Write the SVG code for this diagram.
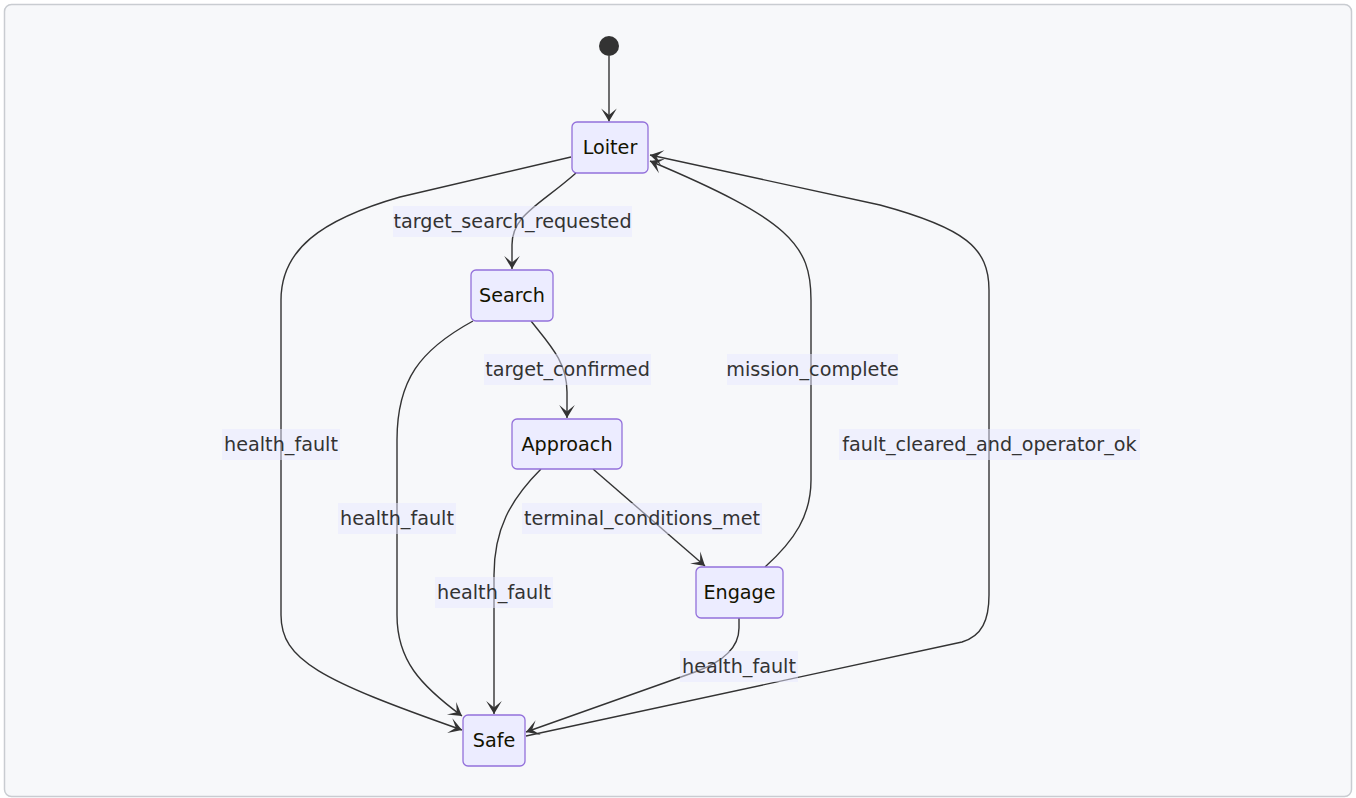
<svg xmlns="http://www.w3.org/2000/svg" width="1356" height="798" viewBox="0 0 1356 798">
  <style>
    .frame { fill: #f7f8fa; stroke: #c9ccd1; stroke-width: 1.5; }
    .node rect { fill: #ececff; stroke: #9370db; stroke-width: 1.3; }
    .node text { font-family: "DejaVu Sans", Verdana, sans-serif; font-size: 19.2px; fill: #131300; text-anchor: middle; dominant-baseline: central; }
    .edge { fill: none; stroke: #333333; stroke-width: 1.4; marker-end: url(#barb); }
    .label rect { fill: #e8e8ff; fill-opacity: 0.5; }
    .label text { font-family: "DejaVu Sans", Verdana, sans-serif; font-size: 19.2px; fill: #333333; text-anchor: middle; dominant-baseline: central; }
  </style>
  <defs>
    <marker id="barb" viewBox="0 0 20 14" refX="19" refY="7" markerWidth="26" markerHeight="18.2" markerUnits="userSpaceOnUse" orient="auto">
      <path d="M19,7 L9,13 L14,7 L9,1 Z" fill="#333333"/>
    </marker>
  </defs>

  <rect x="0" y="0" width="1356" height="798" fill="#ffffff"/>
  <rect class="frame" x="4.5" y="4.5" width="1347" height="792" rx="7"/>

  <!-- transitions -->
  <g id="connectors">
    <path class="edge" d="M609,56 L609,121.5"/>
    <path class="edge" d="M576,173 C540,205 512,215 512,245 L512,269"/>
    <path class="edge" d="M531,321 C550,345 567,362 567,392 L567,418"/>
    <path class="edge" d="M593,469 L705,566"/>
    <path class="edge" d="M541,469 C510,500 494,530 494,575 L494,714"/>
    <path class="edge" d="M739,618 L739,628 C739,650 720,663 695,672 L526,732"/>
    <path class="edge" d="M765,567 C795,540 811,515 811,480 L811,300 C811,245 790,220 650,161"/>
    <path class="edge" d="M526,736 L962,642 C982,636 989,620 989,595 L989,290 C989,248 965,228 880,205 L650,155"/>
    <path class="edge" d="M571,157 L400,197 C320,220 281,250 281,300 L281,615 C281,660 320,680 462,730"/>
    <path class="edge" d="M473,321 C420,350 397,380 397,440 L397,615 C397,660 420,685 462,716"/>
  </g>

  <!-- transition labels -->
  <g id="edge-labels">
    <g class="label"><rect x="393" y="206" width="239" height="31"/><text x="512.5" y="221.5">target_search_requested</text></g>
    <g class="label"><rect x="484" y="354" width="167" height="31"/><text x="567.5" y="369.5">target_confirmed</text></g>
    <g class="label"><rect x="727" y="354" width="171" height="31"/><text x="812.5" y="369.5">mission_complete</text></g>
    <g class="label"><rect x="839" y="429" width="301" height="31"/><text x="989.5" y="444.5">fault_cleared_and_operator_ok</text></g>
    <g class="label"><rect x="222" y="429" width="118" height="31"/><text x="281" y="444.5">health_fault</text></g>
    <g class="label"><rect x="338" y="503" width="118" height="31"/><text x="397" y="518.5">health_fault</text></g>
    <g class="label"><rect x="522" y="503" width="240" height="31"/><text x="642" y="518.5">terminal_conditions_met</text></g>
    <g class="label"><rect x="435" y="577" width="118" height="31"/><text x="494" y="592.5">health_fault</text></g>
    <g class="label"><rect x="680" y="651" width="118" height="31"/><text x="739" y="666.5">health_fault</text></g>
  </g>

  <!-- states -->
  <g id="start"><circle cx="609" cy="46" r="10" fill="#333333"/></g>
  <g id="loiter" class="node"><rect x="572" y="122" width="76" height="51" rx="5"/><text x="610" y="147.5">Loiter</text></g>
  <g id="search" class="node"><rect x="471" y="270" width="82" height="51" rx="5"/><text x="512" y="295.5">Search</text></g>
  <g id="approach" class="node"><rect x="512" y="419" width="110" height="50" rx="5"/><text x="567" y="444">Approach</text></g>
  <g id="engage" class="node"><rect x="696" y="567" width="87" height="51" rx="5"/><text x="739.5" y="592.5">Engage</text></g>
  <g id="safe" class="node"><rect x="463" y="715" width="62" height="51" rx="5"/><text x="494" y="740.5">Safe</text></g>
</svg>
